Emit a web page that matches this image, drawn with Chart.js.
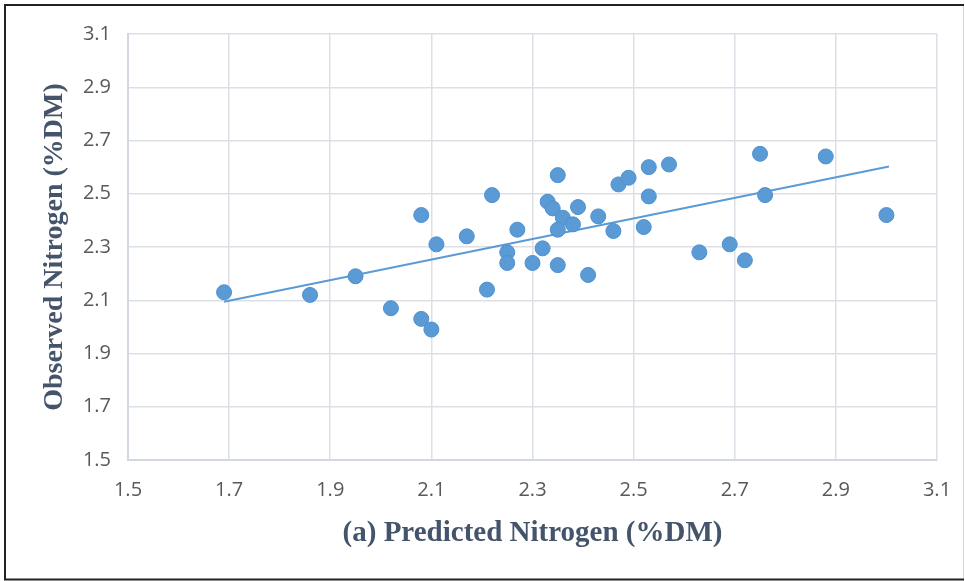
<!DOCTYPE html>
<html>
<head>
<meta charset="utf-8">
<script src="https://cdn.jsdelivr.net/npm/chart.js@4"></script>
<style>
  html, body { margin: 0; padding: 0; background: #ffffff; }
  #wrap { width: 965px; height: 581px; position: relative; }
  canvas { display: block; }
</style>
</head>
<body>
<div id="wrap"><canvas id="nitrogenChart" width="965" height="581"></canvas></div>
<script>
// predicted vs observed nitrogen (%DM)
const predicted = [1.69, 1.86, 1.95, 2.02, 2.08, 2.11, 2.17, 2.08, 2.10,
  2.22, 2.21, 2.25, 2.25, 2.27, 2.30, 2.32, 2.35, 2.33, 2.34, 2.36, 2.35, 2.38,
  2.35, 2.39, 2.41, 2.43, 2.46, 2.47, 2.49, 2.52, 2.53, 2.53, 2.57,
  2.63, 2.69, 2.72, 2.75, 2.76, 2.88, 3.00];
const observed = [2.13, 2.12, 2.19, 2.07, 2.42, 2.31, 2.34, 2.03, 1.99,
  2.495, 2.14, 2.28, 2.24, 2.365, 2.24, 2.295, 2.57, 2.47, 2.445, 2.41, 2.365, 2.385,
  2.232, 2.45, 2.195, 2.415, 2.36, 2.535, 2.56, 2.375, 2.60, 2.49, 2.61,
  2.28, 2.31, 2.25, 2.65, 2.495, 2.64, 2.42];

// linear trendline endpoints
const trendX = [1.69, 3.005];
const trendY = [2.094, 2.602];

const xTicks = [1.5, 1.7, 1.9, 2.1, 2.3, 2.5, 2.7, 2.9, 3.1];
const yTicks = [1.5, 1.7, 1.9, 2.1, 2.3, 2.5, 2.7, 2.9, 3.1];

function toPoints(xs, ys) {
  const pts = [];
  for (let i = 0; i < xs.length; i++) {
    pts.push({x: xs[i], y: ys[i]});
  }
  return pts;
}

// thin frame round the figure, like the original image
const framePlugin = {
  id: 'frame',
  afterDraw(chart) {
    const ctx = chart.ctx;
    ctx.save();
    ctx.strokeStyle = '#d6d6d6';
    ctx.lineWidth = 1;
    ctx.beginPath();
    ctx.moveTo(963.5, 4);
    ctx.lineTo(963.5, 580);
    ctx.stroke();
    ctx.strokeStyle = '#222222';
    ctx.lineWidth = 2;
    ctx.beginPath();
    ctx.moveTo(964, 5);
    ctx.lineTo(5, 5);
    ctx.lineTo(5, 579.5);
    ctx.lineTo(964, 579.5);
    ctx.stroke();
    ctx.restore();
  }
};

const tickFont = {family: "'Open Sans', sans-serif", size: 20};
const titleColor = '#44546a';
const gridColor = '#dcdfe5';

const config = {
  type: 'scatter',
  data: {
    datasets: [{
      label: 'Observed',
      data: toPoints(predicted, observed),
      backgroundColor: '#5b9bd5',
      borderColor: '#4f8fcf',
      borderWidth: 1,
      pointRadius: 7.5,
      order: 1
    }, {
      label: 'Linear trend',
      type: 'line',
      data: toPoints(trendX, trendY),
      borderColor: '#5b9bd5',
      borderWidth: 2,
      pointRadius: 0,
      fill: false,
      order: 2
    }]
  },
  options: {
    responsive: false,
    animation: false,
    events: [],
    layout: {padding: {left: 35, right: 28, top: 34, bottom: 25}},
    plugins: {
      legend: {display: false},
      tooltip: {enabled: false}
    },
    scales: {
      x: {
        type: 'linear',
        min: 1.5,
        max: 3.1,
        afterBuildTicks: scale => { scale.ticks = xTicks.map(v => ({value: v})); },
        afterFit: scale => {
          scale.height = 96;
          scale.paddingLeft = 0;
          scale.paddingRight = 0;
        },
        grid: {color: gridColor, lineWidth: 1.5, drawTicks: false},
        border: {color: '#d3d7df', width: 2},
        ticks: {
          color: '#595959',
          font: tickFont,
          padding: 18,
          callback: v => v.toFixed(1)
        },
        title: {
          display: true,
          text: '(a) Predicted Nitrogen (%DM)',
          color: titleColor,
          font: {family: "'Liberation Serif', 'Times New Roman', serif", size: 29, weight: 'bold'},
          padding: {top: 10, bottom: 5}
        }
      },
      y: {
        type: 'linear',
        min: 1.5,
        max: 3.1,
        afterBuildTicks: scale => { scale.ticks = yTicks.map(v => ({value: v})); },
        afterFit: scale => {
          scale.width = 93;
          scale.paddingTop = 0;
          scale.paddingBottom = 0;
        },
        grid: {color: gridColor, lineWidth: 1.5, drawTicks: false},
        border: {color: '#d3d7df', width: 2},
        ticks: {
          color: '#595959',
          font: tickFont,
          padding: 17,
          callback: v => v.toFixed(1)
        },
        title: {
          display: true,
          text: 'Observed Nitrogen (%DM)',
          color: titleColor,
          font: {family: "'Liberation Serif', 'Times New Roman', serif", size: 28, weight: 'bold'},
          padding: {top: 3, bottom: 4}
        }
      }
    }
  },
  plugins: [framePlugin]
};

const nitrogenChart = new Chart(document.getElementById('nitrogenChart'), config);
</script>
</body>
</html>
